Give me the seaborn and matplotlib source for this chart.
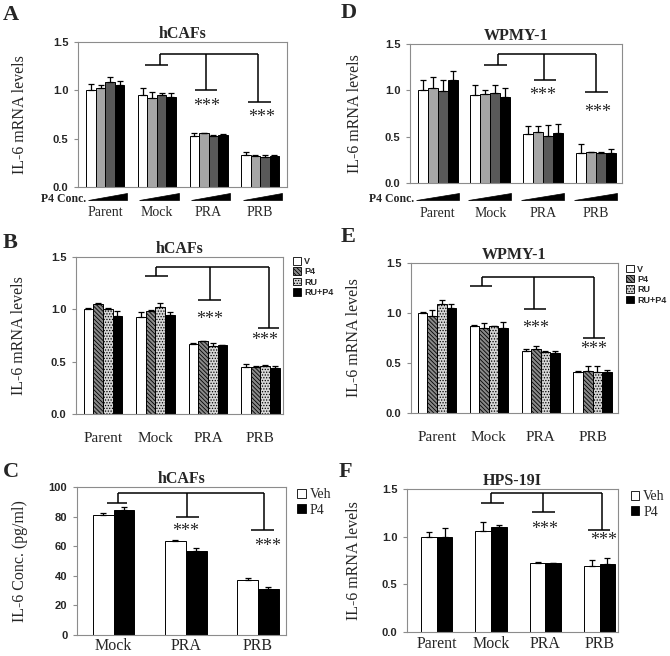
import numpy as np
import pandas as pd
import matplotlib.pyplot as plt
import matplotlib.transforms as mtransforms
from matplotlib.patches import Patch, Polygon
from matplotlib.ticker import FormatStrFormatter
import seaborn as sns

# ---- data ----
groups4 = ["Parent", "Mock", "PRA", "PRB"]
groups3 = ["Mock", "PRA", "PRB"]
p4_doses = ["d1", "d2", "d3", "d4"]
treatments = ["V", "P4", "RU", "RU+P4"]
veh_p4 = ["Veh", "P4"]

# rows = groups, columns = hue levels
a_mean = [[1.00, 1.02, 1.09, 1.06], [0.95, 0.92, 0.95, 0.93],
          [0.53, 0.555, 0.53, 0.54], [0.33, 0.325, 0.31, 0.325]]
a_err = [[0.065, 0.035, 0.045, 0.04], [0.07, 0.06, 0.025, 0.045],
         [0.03, 0.006, 0.006, 0.008], [0.033, 0.01, 0.02, 0.01]]

d_mean = [[1.00, 1.03, 0.99, 1.11], [0.95, 0.96, 0.97, 0.925],
          [0.53, 0.545, 0.51, 0.54], [0.32, 0.33, 0.32, 0.325]]
d_err = [[0.11, 0.11, 0.12, 0.10], [0.11, 0.04, 0.09, 0.095],
         [0.08, 0.065, 0.115, 0.10], [0.10, 0.005, 0.01, 0.047]]

b_mean = [[1.00, 1.055, 1.00, 0.94], [0.93, 0.98, 1.02, 0.95],
          [0.67, 0.695, 0.645, 0.657], [0.445, 0.453, 0.46, 0.437]]
b_err = [[0.01, 0.008, 0.008, 0.045], [0.04, 0.01, 0.04, 0.02],
         [0.01, 0.006, 0.03, 0.006], [0.03, 0.006, 0.01, 0.02]]

e_mean = [[1.00, 0.975, 1.09, 1.05], [0.87, 0.855, 0.87, 0.855],
          [0.625, 0.637, 0.607, 0.597], [0.41, 0.418, 0.415, 0.41]]
e_err = [[0.01, 0.06, 0.045, 0.045], [0.01, 0.045, 0.005, 0.06],
         [0.02, 0.033, 0.01, 0.027], [0.01, 0.056, 0.055, 0.02]]

c_mean = [[81.0, 84.5], [63.5, 57.0], [37.5, 30.8]]
c_err = [[1.2, 1.8], [0.5, 1.8], [0.7, 1.8]]

f_mean = [[1.00, 0.997], [1.06, 1.10], [0.72, 0.72], [0.696, 0.71]]
f_err = [[0.052, 0.098], [0.098, 0.025], [0.01, 0.007], [0.063, 0.063]]

SERIF = ["Liberation Serif", "DejaVu Serif"]
SANS = ["Liberation Sans", "DejaVu Sans"]

sns.set_theme(style="white")
plt.rcParams["font.family"] = SERIF
plt.rcParams["hatch.linewidth"] = 0.6

fig = plt.figure(figsize=(6.7, 6.56), dpi=100)
W, H = 670, 656


def add_axes(l, t, r, b):
    return fig.add_axes([l / W, 1 - b / H, (r - l) / W, (b - t) / H])


def draw_bars(ax, groups, hues, means, errs, colors, width, hatches=None):
    rows = []
    for j, g in enumerate(groups):
        for i, h in enumerate(hues):
            rows.append({"group": g, "hue": h, "value": means[j][i]})
    df = pd.DataFrame(rows)
    sns.barplot(data=df, x="group", y="value", hue="hue", order=groups,
                hue_order=hues, palette=dict(zip(hues, colors)), width=width,
                saturation=1, edgecolor="black", linewidth=0.7, errorbar=None,
                legend=False, ax=ax)
    bars = list(ax.containers)
    for i, cont in enumerate(bars):
        if hatches and hatches[i]:
            for p in cont:
                p.set_hatch(hatches[i])
        xs = [p.get_x() + p.get_width() / 2 for p in cont]
        ys = [p.get_height() for p in cont]
        up = [errs[j][i] for j in range(len(groups))]
        ax.errorbar(xs, ys, yerr=[np.zeros(len(xs)), up], fmt="none",
                    ecolor="black", elinewidth=0.9, capsize=2.2, capthick=0.9)


def style_axes(ax, title, ylabel, xlim, ylim, yticks, fmt, xpad, xsize,
               ylab_x):
    ax.set_xlim(*xlim)
    ax.set_ylim(*ylim)
    ax.set_yticks(yticks)
    ax.yaxis.set_major_formatter(FormatStrFormatter(fmt))
    for s in ax.spines.values():
        s.set_visible(True)
        s.set_color("#8c8c8c")
        s.set_linewidth(0.8)
    ax.tick_params(axis="y", left=True, length=3, width=0.8, color="#8c8c8c",
                   pad=4, labelsize=8)
    ax.tick_params(axis="x", length=0, pad=xpad, labelsize=xsize)
    plt.setp(ax.get_yticklabels(), family=SANS, weight="bold")
    plt.setp(ax.get_xticklabels(), family=SERIF)
    ax.set_xlabel("")
    ax.set_ylabel(ylabel, fontsize=11.5, family=SERIF)
    ax.yaxis.set_label_coords(ylab_x, 0.5)
    ax.set_title(title, fontsize=11.5, weight="bold", pad=3)


def draw_brackets(ax, top, stubs, stars):
    kw = dict(color="black", lw=1.1, clip_on=False, solid_capstyle="butt")
    ax.plot([stubs[0][0], stubs[-1][0]], [top, top], **kw)
    for xv, foot, xl, xr in stubs:
        ax.plot([xv, xv], [top, foot], **kw)
        ax.plot([xl, xr], [foot, foot], **kw)
    for sx, sy in stars:
        ax.text(sx, sy, "***", ha="center", va="center", fontsize=13)


def draw_wedges(ax, x0, x1, ybot, ytop):
    trans = mtransforms.blended_transform_factory(ax.transData, ax.transAxes)
    for c in ax.get_xticks():
        tri = Polygon([(c + x0, ybot), (c + x1, ybot), (c + x1, ytop)],
                      closed=True, facecolor="black", edgecolor="black",
                      lw=0.5, transform=trans, clip_on=False)
        ax.add_patch(tri)
    first = ax.get_xticks()[0]
    ax.text(first + x0 - 0.03, ybot - 0.012, "P4 Conc.",
            transform=trans, ha="right", va="baseline", fontsize=8.5,
            weight="bold")


def small_legend(ax, labels, colors, hatches, anchor, size, family, weight,
                 box=0.9):
    handles = [Patch(facecolor=c, edgecolor="black", hatch=h, lw=0.6, label=l)
               for l, c, h in zip(labels, colors, hatches)]
    ax.legend(handles=handles, loc="upper left", bbox_to_anchor=anchor,
              frameon=False, borderaxespad=0, borderpad=0, handlelength=box,
              handleheight=box, labelspacing=0.15, handletextpad=0.3,
              prop={"size": size, "family": family, "weight": weight})


grey4 = ["white", "#a6a6a6", "#595959", "black"]
treat_colors = ["white", "#8a8a8a", "#d6d6d6", "black"]
treat_hatch = ["", "\\\\\\\\\\\\\\\\", "......", ""]
vp_colors = ["white", "black"]

# ---- A ----
axA = add_axes(78, 42, 287, 187)
draw_bars(axA, groups4, p4_doses, a_mean, a_err, grey4, 0.735)
style_axes(axA, "hCAFs", "IL-6 mRNA levels", (-0.53, 3.52), (0, 1.5),
           [0, 0.5, 1.0, 1.5], "%.1f", 14, 10, -0.24)
draw_brackets(axA, 1.377, [(1.05, 1.263, 0.77, 1.21), (1.95, 1.003, 1.74, 2.17),
                           (2.95, 0.88, 2.77, 3.21)], [(1.97, 0.83), (3.02, 0.72)])
draw_wedges(axA, -0.34, 0.42, -0.093, -0.041)

# ---- D ----
axD = add_axes(410, 44, 622, 183)
draw_bars(axD, groups4, p4_doses, d_mean, d_err, grey4, 0.76)
style_axes(axD, "WPMY-1", "IL-6 mRNA levels", (-0.525, 3.50), (0, 1.5),
           [0, 0.5, 1.0, 1.5], "%.1f", 17, 10, -0.222)
draw_brackets(axD, 1.39, [(1.146, 1.27, 0.886, 1.316), (2.01, 1.113, 1.82, 2.24),
                          (3.0, 0.987, 2.8, 3.23)], [(2.0, 0.94), (3.03, 0.76)])
draw_wedges(axD, -0.42, 0.40, -0.122, -0.072)

# ---- B ----
axB = add_axes(76, 257, 283, 414)
draw_bars(axB, groups4, treatments, b_mean, b_err, treat_colors, 0.74,
          treat_hatch)
style_axes(axB, "hCAFs", "IL-6 mRNA levels", (-0.513, 3.43), (0, 1.5),
           [0, 0.5, 1.0, 1.5], "%.1f", 13, 11, -0.237)
draw_brackets(axB, 1.40, [(1.01, 1.315, 0.80, 1.23), (2.03, 1.09, 1.82, 2.24),
                          (3.16, 0.817, 2.95, 3.35)], [(2.03, 0.90), (3.08, 0.705)])
small_legend(axB, treatments, treat_colors, treat_hatch, (1.05, 1.0), 6.5,
             SANS, "bold")

# ---- E ----
axE = add_axes(411, 263, 618, 413)
draw_bars(axE, groups4, treatments, e_mean, e_err, treat_colors, 0.74,
          treat_hatch)
style_axes(axE, "WPMY-1", "IL-6 mRNA levels", (-0.50, 3.49), (0, 1.5),
           [0, 0.5, 1.0, 1.5], "%.1f", 13, 11, -0.237)
draw_brackets(axE, 1.36, [(0.86, 1.27, 0.63, 1.06), (1.876, 1.04, 1.68, 2.11),
                          (3.03, 0.747, 2.82, 3.24)], [(1.91, 0.845), (3.02, 0.63)])
small_legend(axE, treatments, treat_colors, treat_hatch, (1.04, 0.99), 6.5,
             SANS, "bold")

# ---- C ----
axC = add_axes(77, 487, 286, 635)
draw_bars(axC, groups3, veh_p4, c_mean, c_err, vp_colors, 0.575)
style_axes(axC, "hCAFs", "IL-6 Conc. (pg/ml)", (-0.51, 2.39), (0, 100),
           [0, 20, 40, 60, 80, 100], "%d", 2.5, 11.5, -0.233)
draw_brackets(axC, 95.7, [(0.054, 89.4, -0.10, 0.19), (1.02, 80.0, 0.87, 1.18),
                          (2.09, 71.1, 1.91, 2.23)], [(1.0, 70.0), (2.13, 60.0)])
small_legend(axC, veh_p4, vp_colors, ["", ""], (1.055, 0.99), 10, SERIF,
             "normal", box=0.6)

# ---- F ----
axF = add_axes(407, 489, 618, 632)
draw_bars(axF, groups4, veh_p4, f_mean, f_err, vp_colors, 0.575)
style_axes(axF, "HPS-19I", "IL-6 mRNA levels", (-0.55, 3.34), (0, 1.5),
           [0, 0.5, 1.0, 1.5], "%.1f", 3, 11.5, -0.213)
draw_brackets(axF, 1.456, [(1.0, 1.35, 0.82, 1.24), (1.96, 1.263, 1.75, 2.18),
                           (3.04, 1.07, 2.79, 3.20)], [(1.98, 1.07), (3.07, 0.965)])
small_legend(axF, veh_p4, vp_colors, ["", ""], (1.06, 0.99), 10, SERIF,
             "normal", box=0.6)

# panel letters
for letter, x, y in [("A", 3, 15), ("D", 341, 13), ("B", 3, 243),
                     ("E", 341, 237), ("C", 3, 472), ("F", 339, 472)]:
    fig.text(x / W, 1 - y / H, letter, ha="left", va="center", fontsize=16,
             weight="bold")

fig.savefig("out.png", dpi=100)
